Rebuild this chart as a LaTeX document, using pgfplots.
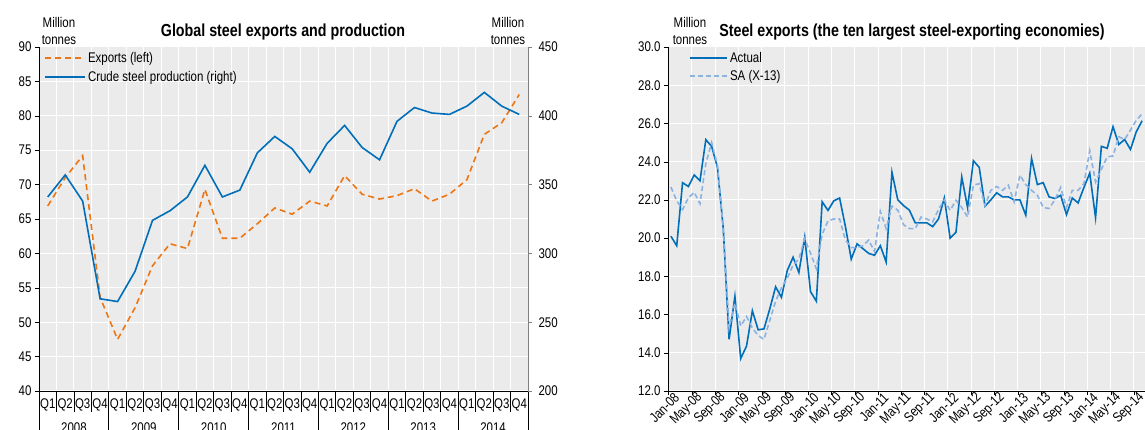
\documentclass[border=0pt]{standalone}
\usepackage{pgfplots}
\pgfplotsset{compat=1.18}
\usepackage{fontspec}
\setmainfont{Liberation Sans}[FakeStretch=0.82]

\definecolor{oblue}{RGB}{0,110,185}
\definecolor{oorange}{RGB}{236,118,20}
\definecolor{lblue}{RGB}{140,178,225}
\definecolor{bg}{RGB}{235,235,235}

\newcommand{\fs}{\fontsize{14pt}{16pt}\selectfont}

\pgfplotsset{
  every axis/.append style={
    scale only axis, anchor=south west,
    /pgf/number format/assume math mode=true,
    tick label style={font=\fs},
    tick align=outside,
    major tick length=4pt,
    legend cell align=left,
  },
}

\begin{document}
\begin{tikzpicture}
\path[use as bounding box] (0pt,0pt) rectangle (1145pt,430pt);

% left panel, exports (left axis)
\begin{axis}[
  at={(39pt,39pt)}, width=489pt, height=344pt,
  xmin=-0.5, xmax=27.5, ymin=40, ymax=90,
  clip=false,
  axis background/.style={fill=bg},
  axis x line*=bottom, axis y line*=left,
  axis line style={-, black, line width=0.8pt},
  xtick={0,...,27},
  xticklabels={Q1,Q2,Q3,Q4,Q1,Q2,Q3,Q4,Q1,Q2,Q3,Q4,Q1,Q2,Q3,Q4,Q1,Q2,Q3,Q4,Q1,Q2,Q3,Q4,Q1,Q2,Q3,Q4},
  major x tick style={draw=none},
  minor xtick={-0.5,0.5,1.5,2.5,3.5,4.5,5.5,6.5,7.5,8.5,9.5,10.5,11.5,12.5,13.5,14.5,15.5,16.5,17.5,18.5,19.5,20.5,21.5,22.5,23.5,24.5,25.5,26.5,27.5},
  minor tick length=21pt,
  minor x tick style={black, line width=0.8pt},
  xticklabel style={inner xsep=0pt},
  ytick={40,45,...,90},
  ytick style={black},
  xminorgrids, ymajorgrids,
  grid style={white, line width=1pt},
  minor grid style={white, line width=1pt},
  legend style={at={(0,1)}, anchor=north west, xshift=2pt, yshift=-1pt,
    draw=none, fill=none, font=\fs, row sep=3.5pt},
  legend image code/.code={\draw[#1, line width=1.8pt] (0pt,0pt) -- (40pt,0pt);},
]
\addplot[oorange, line width=1.6pt, dash pattern=on 6pt off 4pt] coordinates {
(0,66.9) (1,71.0) (2,74.2) (3,53.6) (4,47.5) (5,52.1) (6,58.2) (7,61.4)
(8,60.7) (9,69.3) (10,62.2) (11,62.2) (12,64.3) (13,66.6) (14,65.7) (15,67.6)
(16,66.9) (17,71.3) (18,68.6) (19,67.9) (20,68.4) (21,69.4) (22,67.6) (23,68.6)
(24,70.7) (25,77.3) (26,79.0) (27,83.1)
};
\addlegendentry{Exports (left)}
\addlegendimage{oblue, solid, line width=1.6pt}
\addlegendentry{Crude steel production (right)}
\pgfplotsinvokeforeach{-0.5,3.5,7.5,11.5,15.5,19.5,23.5,27.5}{
  \draw[black, line width=0.8pt] (axis cs:#1,40) -- ++(0pt,-40pt);
}
\node[anchor=north, font=\fs] at (axis cs:1.5,40) [yshift=-28pt] {2008};
\node[anchor=north, font=\fs] at (axis cs:5.5,40) [yshift=-28pt] {2009};
\node[anchor=north, font=\fs] at (axis cs:9.5,40) [yshift=-28pt] {2010};
\node[anchor=north, font=\fs] at (axis cs:13.5,40) [yshift=-28pt] {2011};
\node[anchor=north, font=\fs] at (axis cs:17.5,40) [yshift=-28pt] {2012};
\node[anchor=north, font=\fs] at (axis cs:21.5,40) [yshift=-28pt] {2013};
\node[anchor=north, font=\fs] at (axis cs:25.5,40) [yshift=-28pt] {2014};
\end{axis}

% left panel, production (right axis)
\begin{axis}[
  at={(39pt,39pt)}, width=489pt, height=344pt,
  xmin=-0.5, xmax=27.5, ymin=200, ymax=450,
  axis x line=none, axis y line*=right,
  axis line style={-, gray, line width=0.8pt},
  ytick={200,250,...,450},
  ytick style={gray},
  yticklabel style={xshift=3pt},
]
\addplot[oblue, line width=1.6pt] coordinates {
(0,341) (1,357) (2,338) (3,267) (4,265) (5,287) (6,324) (7,331)
(8,341) (9,364) (10,341) (11,346) (12,373) (13,385) (14,376) (15,359)
(16,380) (17,393) (18,377) (19,368) (20,396) (21,406) (22,402) (23,401)
(24,407) (25,417) (26,407) (27,401)
};
\end{axis}

% right panel
\begin{axis}[
  at={(668pt,39pt)}, width=477pt, height=344pt,
  xmin=-0.5, xmax=81.5, ymin=12, ymax=30,
  axis background/.style={fill=bg},
  axis x line*=bottom, axis y line*=left,
  axis line style={-, black, line width=0.8pt},
  xtick={-0.4,3.6,7.6,11.6,15.6,19.6,23.6,27.6,31.6,35.6,39.6,43.6,47.6,51.6,55.6,59.6,63.6,67.6,71.6,75.6,79.6},
  xticklabels={Jan-08,May-08,Sep-08,Jan-09,May-09,Sep-09,Jan-10,May-10,Sep-10,Jan-11,May-11,Sep-11,Jan-12,May-12,Sep-12,Jan-13,May-13,Sep-13,Jan-14,May-14,Sep-14},
  xticklabel style={rotate=45, anchor=east, xshift=9pt, yshift=-6pt},
  ytick={12,14,...,30},
  yticklabel style={/pgf/number format/.cd, fixed, fixed zerofill, precision=1},
  tick style={black},
  xmajorgrids, ymajorgrids,
  grid style={white, line width=1pt},
  legend style={at={(0,1)}, anchor=north west, xshift=18pt, yshift=-1pt,
    draw=none, fill=none, font=\fs, row sep=2.5pt},
  legend image code/.code={\draw[#1, line width=1.8pt] (0pt,0pt) -- (37pt,0pt);},
]
\addplot[oblue, line width=1.6pt] coordinates {
(0,20.1) (1,19.6) (2,22.9) (3,22.7) (4,23.3) (5,23.0) (6,25.15) (7,24.8)
(8,23.7) (9,20.5) (10,14.7) (11,16.95) (12,13.7) (13,14.35) (14,16.2) (15,15.2)
(16,15.25) (17,16.3) (18,17.45) (19,16.9) (20,18.3) (21,19.0) (22,18.2) (23,20.05)
(24,17.2) (25,16.7) (26,21.9) (27,21.45) (28,21.95) (29,22.1) (30,20.6) (31,18.9)
(32,19.7) (33,19.45) (34,19.2) (35,19.1) (36,19.6) (37,18.75) (38,23.45) (39,22.0)
(40,21.7) (41,21.46) (42,20.8) (43,20.8) (44,20.8) (45,20.6) (46,21.0) (47,22.1)
(48,20.0) (49,20.3) (50,23.2) (51,21.6) (52,24.05) (53,23.7) (54,21.67) (55,22.0)
(56,22.37) (57,22.16) (58,22.16) (59,22.0) (60,22.0) (61,21.2) (62,24.17) (63,22.8)
(64,22.9) (65,22.16) (66,22.07) (67,22.24) (68,21.23) (69,22.1) (70,21.84) (71,22.65)
(72,23.4) (73,21.07) (74,24.8) (75,24.7) (76,25.83) (77,24.9) (78,25.16) (79,24.64)
(80,25.56) (81,26.14)
};
\addlegendentry{Actual}
\addplot[lblue, line width=1.6pt, dash pattern=on 5pt off 3pt] coordinates {
(0,22.67) (1,21.95) (2,21.5) (3,22.1) (4,22.4) (5,21.8) (6,23.9) (7,25.0)
(8,23.8) (9,20.5) (10,15.3) (11,16.6) (12,15.4) (13,15.9) (14,15.3) (15,14.9)
(16,14.7) (17,15.7) (18,16.7) (19,17.4) (20,17.9) (21,18.6) (22,18.9) (23,19.97)
(24,19.2) (25,18.4) (26,20.2) (27,20.9) (28,21.0) (29,21.0) (30,19.9) (31,19.5)
(32,19.5) (33,19.6) (34,19.9) (35,19.3) (36,21.4) (37,20.5) (38,21.67) (39,21.46)
(40,20.7) (41,20.5) (42,20.5) (43,21.1) (44,21.0) (45,20.85) (46,21.5) (47,22.0)
(48,21.45) (49,21.98) (50,21.6) (51,21.1) (52,22.77) (53,22.85) (54,21.7) (55,22.5)
(56,22.7) (57,22.5) (58,22.77) (59,21.9) (60,23.3) (61,22.8) (62,22.5) (63,22.24)
(64,21.6) (65,21.55) (66,22.0) (67,22.65) (68,21.6) (69,22.5) (70,22.5) (71,22.85)
(72,24.57) (73,22.94) (74,23.6) (75,24.25) (76,24.3) (77,25.3) (78,25.16) (79,25.65)
(80,26.17) (81,26.5)
};
\addlegendentry{SA (X-13)}
\end{axis}

% titles and unit labels
\node[font=\fontsize{17.4pt}{19pt}\selectfont\bfseries] at (283pt,398pt) {Global steel exports and production};
\node[font=\fontsize{17.4pt}{19pt}\selectfont\bfseries] at (912pt,398pt) {Steel exports (the ten largest steel-exporting economies)};
\node[font=\fs, align=center, inner sep=0pt] at (59pt,399pt) {Million\\[1pt]tonnes};
\node[font=\fs, align=center, inner sep=0pt] at (508pt,399pt) {Million\\[1pt]tonnes};
\node[font=\fs, align=center, inner sep=0pt] at (690pt,399pt) {Million\\[1pt]tonnes};
\end{tikzpicture}
\end{document}
